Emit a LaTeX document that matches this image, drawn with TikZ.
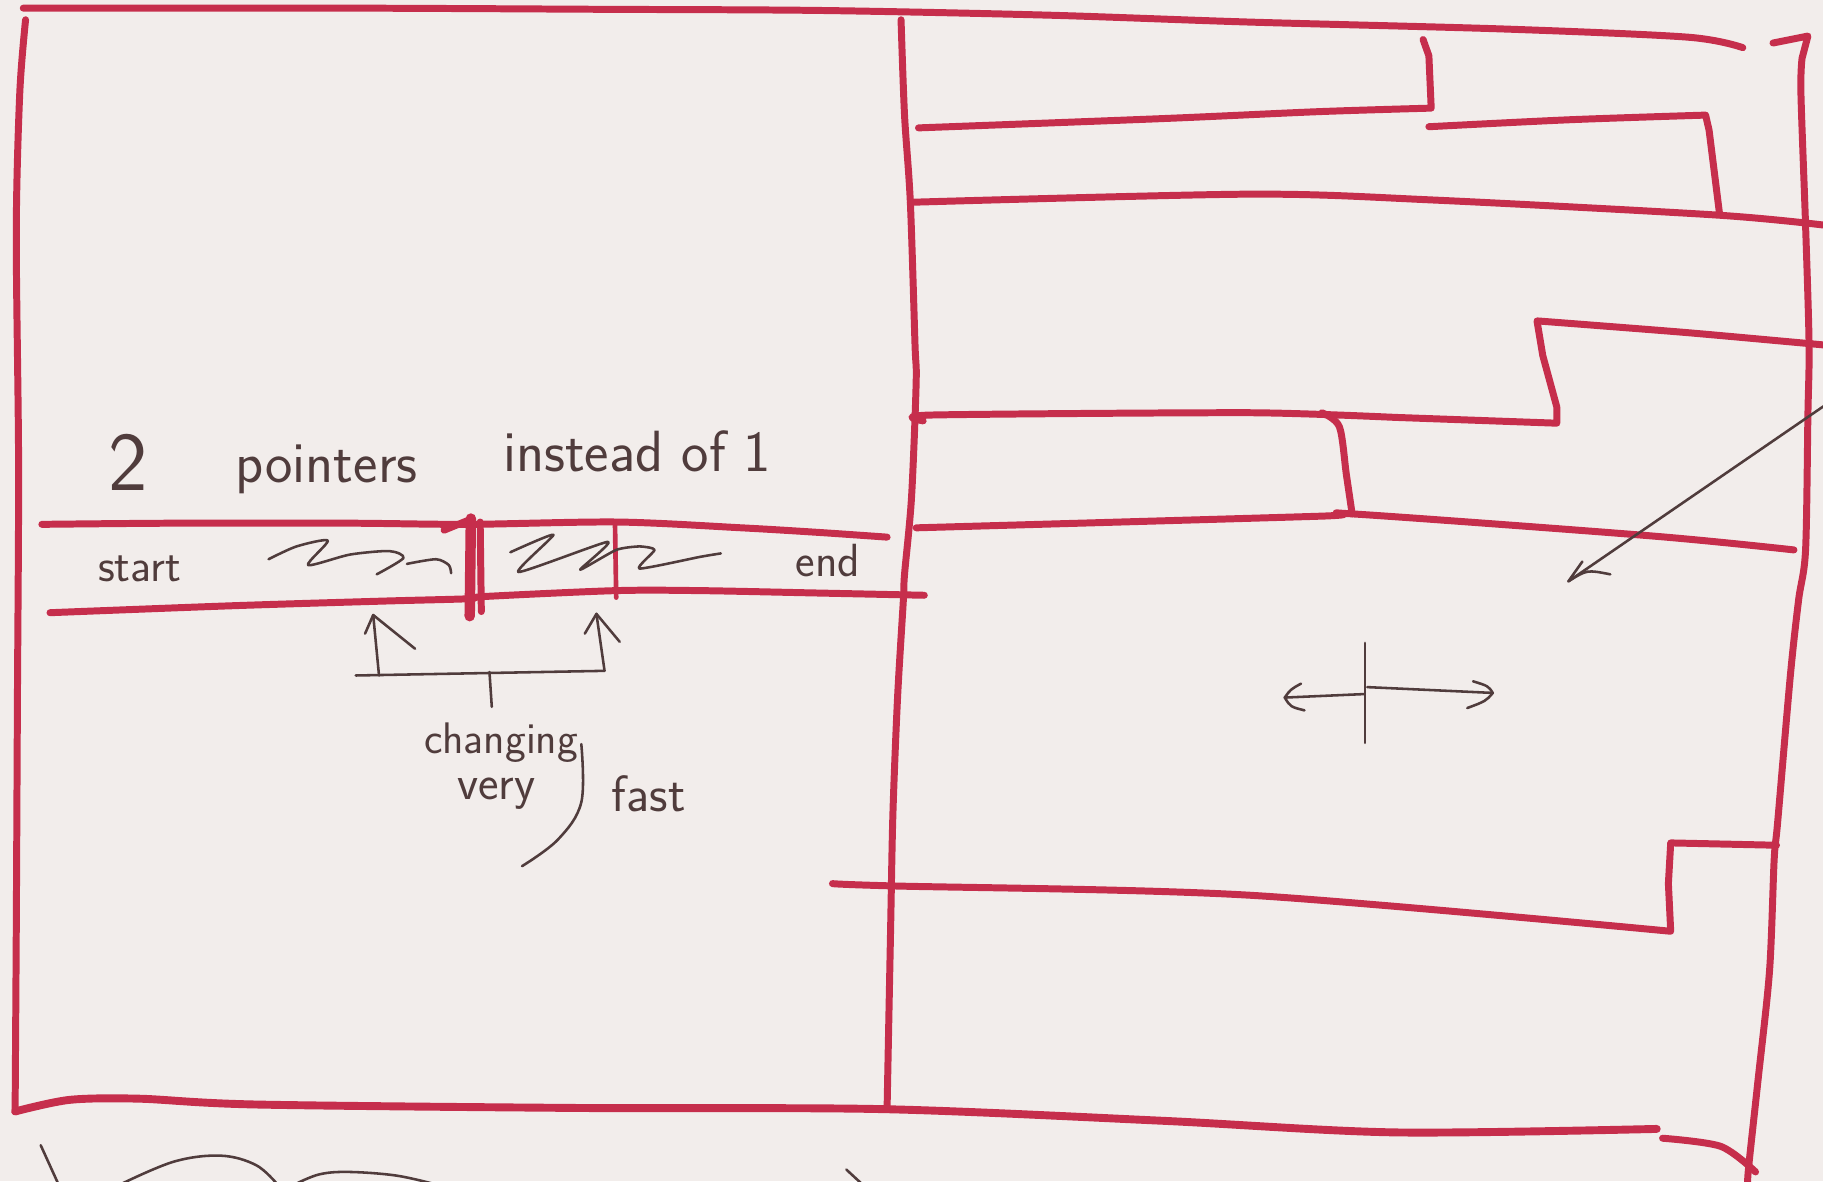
\documentclass[tikz,border=0pt]{standalone}
\usepackage{xcolor}
\definecolor{mred}{RGB}{198,46,76}
\definecolor{mink}{RGB}{80,60,60}
\definecolor{paper}{RGB}{242,237,235}
\tikzset{
  redpen/.style={draw=mred, line width=3pt, line cap=round, line join=round},
  inkpen/.style={draw=mink, line width=1.1pt, line cap=round, line join=round},
  hand/.style={text=mink, inner sep=0pt, font=\sffamily\fontsize{#1}{#1}\selectfont},
}
\begin{document}
\begin{tikzpicture}[x=0.5pt,y=-0.5pt]
\clip (0,0) rectangle (1568,1016);
\fill[paper] (0,0) rectangle (1568,1016);

% ---- outer frame ----
\draw[redpen] plot[smooth,tension=0.5] coordinates {(20,7) (300,7) (516,8) (705,9) (900,13) (1075,19) (1295,25) (1452,32) (1499,41)};
\draw[redpen] plot[smooth,tension=0.5] coordinates {(22,17) (17,80) (14,200) (16,400) (15,600) (14,800) (13,955)};
\draw[redpen,line width=3.4pt] plot[smooth,tension=0.5] coordinates {(13,956) (60,946) (120,945) (220,950) (500,953) (760,954) (1000,964) (1200,974) (1425,971)};
\draw[redpen] plot[smooth] coordinates {(1430,979) (1480,986) (1510,1008)};
\draw[redpen] (1525,37) -- (1555,31) -- plot[smooth,tension=0.5] coordinates {(1550,50) (1549,80) (1553,194) (1556,296) (1555,357) (1553,473) (1547,516) (1540,580) (1529,707) (1526,739) (1522,835) (1512,930) (1504,1004) (1503,1022)};

% ---- middle divider ----
\draw[redpen] plot[smooth,tension=0.5] coordinates {(775,17) (778,99) (783,174) (787,296) (788,329) (784,428) (778,494) (777,516) (772,600) (768,700) (766,800) (763,953)};

% ---- right-hand shelves ----
\draw[redpen] plot[smooth,tension=0.5] coordinates {(790,110) (1000,102) (1135,96) (1231,93)} -- (1229,48) -- (1224,34);
\draw[redpen] plot[smooth,tension=0.5] coordinates {(1229,109) (1350,103) (1467,99)} -- (1470,112) -- (1479,184);
\draw[redpen] plot[smooth,tension=0.5] coordinates {(783,174) (1075,167) (1232,172) (1477,185) (1572,194)};
\draw[redpen] plot[smooth,tension=0.4] coordinates {(1572,297) (1450,286) (1322,276)} -- (1327,306) -- (1339,350) -- (1339,364) -- plot[smooth,tension=0.4] coordinates {(1200,359) (1075,355) (800,357) (794,362)};
\draw[redpen] plot[smooth] coordinates {(1137,355) (1152,367) (1158,408) (1163,442)};
\draw[redpen] plot[smooth,tension=0.5] coordinates {(788,454) (1135,444) (1163,442) (1421,461) (1543,473)};
\draw[redpen] plot[smooth,tension=0.5] coordinates {(716,760) (768,762) (1075,770) (1437,801)} -- (1435,760) -- (1437,725) -- (1528,727);

% ---- gap buffer ----
\draw[redpen] plot[smooth,tension=0.5] coordinates {(36,451) (150,450) (300,450) (403,451) (531,449) (638,454) (705,458) (763,462)};
\draw[redpen] plot[smooth,tension=0.5] coordinates {(43,527) (200,521) (330,517) (403,515) (418,513) (530,508) (602,508) (700,510) (795,512)};
\draw[redpen,line width=4.5pt] (405,446) -- (404,530);
\draw[redpen,line width=3pt] (413,449) -- (414,526);
\draw[redpen,line width=3pt] (382,456) -- (404,447);
\draw[redpen,line width=2pt] (529,452) -- (530,514);

% scribbles standing for text
\draw[inkpen] plot[smooth,tension=0.45] coordinates {(231,481) (255,470) (282,465) (265,486) (301,477) (335,474) (347,480) (324,494)};
\draw[inkpen] plot[smooth,tension=0.45] coordinates {(350,485) (375,481) (386,486) (388,493)};
\draw[inkpen] plot[smooth,tension=0.35] coordinates {(439,475) (476,460) (446,492) (523,466) (499,490) (530,473) (550,470) (563,473) (550,489) (602,479) (620,476)};

% texts
\node[hand=36] (two) at (110,398) {2};
\node[hand=25] (pointers) at (281,404) {pointers};
\node[hand=25] (instead) at (548,388) {instead of 1};
\node[hand=20] (start) at (120,489) {start};
\node[hand=20] (end) at (712,482) {end};
\node[hand=19] (changing) at (431,639) {changing};
\node[hand=21] (very) at (427,683) {very};
\node[hand=22] (fast) at (558,683) {fast};

% pointer arrows
\coordinate (la) at (321,529);
\coordinate (ra) at (513,528);
\draw[inkpen] (326,581) -- (la);
\draw[inkpen] (314,545) -- (la) -- (357,558);
\draw[inkpen] (520,577) -- (ra);
\draw[inkpen] (503,545) -- (ra) -- (533,552);
\draw[inkpen] (306,581) -- (520,577);
\draw[inkpen] (421,578) -- (423,608);
\draw[inkpen] plot[smooth,tension=0.6] coordinates {(500,640) (500,690) (480,722) (449,745)};

% cross with arrows (right panel)
\draw[inkpen] (1174,553) -- (1174,639);
\draw[inkpen] (1105,600) -- (1173,597);
\draw[inkpen] (1176,591) -- (1284,596);
\draw[inkpen] (1119,588) .. controls (1110,593) .. (1105,600) .. controls (1110,608) .. (1122,611);
\draw[inkpen] (1267,586) .. controls (1280,590) .. (1284,596) .. controls (1278,603) .. (1262,609);

% long diagonal arrow
\coordinate (dtip) at (1349,500);
\draw[inkpen] (1572,347) -- (dtip);
\draw[inkpen] (1361,483) -- (dtip) .. controls (1365,490) .. (1385,494);

% strokes cut off at the bottom edge
\draw[inkpen] (35,985) -- (50,1018);
\draw[inkpen] plot[smooth,tension=0.6] coordinates {(105,1018) (150,999) (190,994) (220,1002) (238,1018)};
\draw[inkpen] plot[smooth,tension=0.6] coordinates {(255,1018) (275,1010) (300,1008) (340,1011) (372,1018)};
\draw[inkpen] (728,1006) -- (741,1018);
\end{tikzpicture}
\end{document}
